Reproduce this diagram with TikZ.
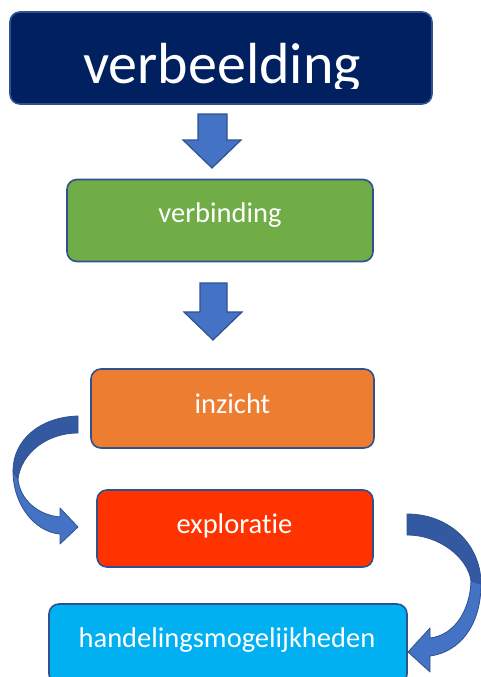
\documentclass[tikz,border=0pt]{standalone}
\usepackage{fontspec}
\setmainfont{Carlito}[RawFeature={-liga;-clig;-calt;-dlig}]
\definecolor{navy}{HTML}{002060}
\definecolor{leaf}{HTML}{70AD47}
\definecolor{tangerine}{HTML}{ED7D31}
\definecolor{flame}{HTML}{FF3300}
\definecolor{sky}{HTML}{00B0F0}
\definecolor{edge}{HTML}{2F528F}
\definecolor{arrowfill}{HTML}{4472C4}
\definecolor{arrowdark}{HTML}{3359A0}
\begin{document}
\begin{tikzpicture}[x=1pt,y=-1pt,
  box/.style={draw=edge, line width=1.6pt, rounded corners=10pt, inner sep=0pt},
  lbl/.style={text=white, inner sep=0pt, anchor=base, font=\fontsize{28.5}{30}\selectfont},
  bigl/.style={text=white, inner sep=0pt, anchor=base, font=\fontsize{58}{60}\selectfont},
  blockarrow/.style={fill=arrowfill, draw=edge, line width=1.2pt, line join=miter},
  ribbon/.style={draw=edge, line width=0.8pt, line join=round}]
\clip (0,0) rectangle (481,677);

% boxes
\node[box, fill=navy, minimum width=422pt, minimum height=92pt] (top) at (221,58) {};
\node[box, fill=leaf, minimum width=306pt, minimum height=82pt] (verb) at (220,220.5) {};
\node[box, fill=tangerine, minimum width=283pt, minimum height=79pt] (inz) at (232.5,408.5) {};
\node[box, fill=flame, minimum width=276pt, minimum height=77pt] (expl) at (235,528.5) {};
\node[box, fill=sky, minimum width=358pt, minimum height=80pt] (hand) at (228,644) {};

% labels
\begin{scope}
  \clip (10,12) rectangle (432,88);
  \node[bigl] (ttop) at (222,84) {verbeelding};
\end{scope}
\node[lbl] (tverb) at (220,222) {verbinding};
\node[lbl] (tinz) at (232.5,413) {inzicht};
\node[lbl] (texpl) at (234.5,533) {exploratie};
\node[lbl] (thand) at (227,647) {handelingsmogelijkheden};

% straight block arrows between the upper boxes
\draw[blockarrow] (198,114) -- (227,114) -- (227,140) -- (241,140) -- (212,168)
  -- (183,140) -- (198,140) -- cycle;
\draw[blockarrow] (200,283) -- (227,283) -- (227,312) -- (242,312) -- (213,340)
  -- (184,312) -- (200,312) -- cycle;

% curved arrow: inzicht -> exploratie (left side)
\draw[ribbon, fill=arrowdark] (78,416) .. controls (40,417) and (13,440) .. (13,471)
  -- (18,479) .. controls (21,454) and (46,433) .. (78,433) -- cycle;
\draw[ribbon, fill=arrowfill] (13,471) .. controls (13,505) and (35,532) .. (60,534)
  -- (60,544) -- (78,527) -- (60,508) -- (60,517)
  .. controls (38,515) and (20,500) .. (18,479) -- cycle;

% curved arrow: exploratie -> handelingsmogelijkheden (right side)
\draw[ribbon, fill=arrowdark] (407,514) .. controls (450,514) and (481,545) .. (481,584)
  -- (471,581) .. controls (468,558) and (440,535) .. (407,535) -- cycle;
\draw[ribbon, fill=arrowfill] (481,584) .. controls (481,625) and (460,652) .. (430,656)
  -- (430,672) -- (408,652) -- (430,628) -- (430,638)
  .. controls (455,635) and (470,610) .. (471,581) -- cycle;
\end{tikzpicture}
\end{document}
